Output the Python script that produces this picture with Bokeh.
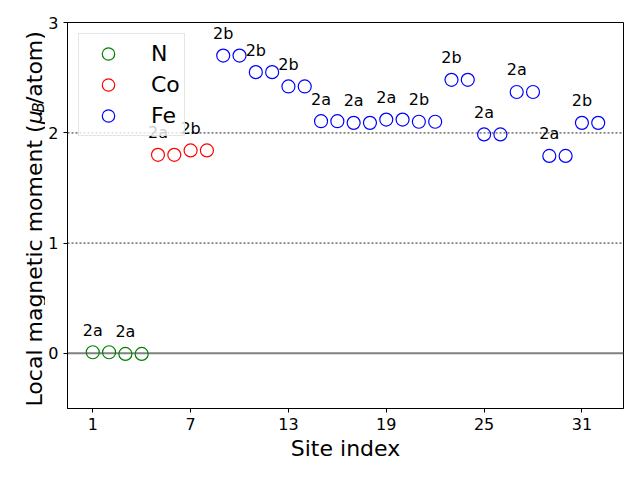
import math
from bokeh.plotting import figure
from bokeh.layouts import row
from bokeh.models import Span, Legend, LegendItem, FixedTicker, Range1d
from bokeh.embed import file_html
from bokeh.resources import INLINE
from bokeh.core.properties import value

# ---- data ----
n_sites = [1, 2, 3, 4]
n_moment = [0.01, 0.01, -0.005, -0.005]
co_sites = [5, 6, 7, 8]
co_moment = [1.80, 1.80, 1.84, 1.84]
fe_sites = list(range(9, 33))
fe_moment = [2.70, 2.70, 2.55, 2.55, 2.42, 2.42, 2.105, 2.105, 2.09, 2.09,
             2.12, 2.12, 2.10, 2.10, 2.48, 2.48, 1.985, 1.985, 2.37, 2.37,
             1.79, 1.79, 2.09, 2.09]
wyckoff_sites = [1, 3, 5, 7, 9, 11, 13, 15, 17, 19, 21, 23, 25, 27, 29, 31]
wyckoff_labels = ["2a", "2a", "2a", "2b", "2b", "2b", "2b", "2a", "2a", "2a",
                  "2b", "2b", "2a", "2a", "2a", "2b"]
x_ticks = [1, 7, 13, 19, 25, 31]
y_ticks = [0, 1, 2, 3]

all_sites = n_sites + co_sites + fe_sites
all_moment = n_moment + co_moment + fe_moment
moment_of = dict(zip(all_sites, all_moment))
label_y = [moment_of[s] + 0.2 for s in wyckoff_sites]

FONT = "DejaVu Sans"
H = 464
TOP, BOTTOM = 22, 56
LW = 45  # width of the y-label strip
Y_START, Y_END = -0.5, 3.0

p = figure(width=624 - LW, height=H, x_range=Range1d(-0.55, 33.55), y_range=Range1d(Y_START, Y_END),
           output_backend="svg", toolbar_location=None,
           min_border_left=65 - LW, min_border_right=1, min_border_top=TOP, min_border_bottom=BOTTOM)
p.grid.visible = False
p.outline_line_color = "black"
p.outline_line_alpha = 1.0
p.outline_line_width = 1
p.background_fill_color = "white"
p.border_fill_color = "white"

for ax in (p.xaxis[0], p.yaxis[0]):
    ax.major_tick_out = 4
    ax.major_tick_in = 0
    ax.minor_tick_out = 0
    ax.minor_tick_in = 0
    ax.major_label_text_font = FONT
    ax.major_label_text_font_size = "16px"
    ax.major_label_text_color = "black"
    ax.axis_line_color = "black"
    ax.major_tick_line_color = "black"
    ax.major_label_standoff = 5

p.xaxis.ticker = FixedTicker(ticks=x_ticks, minor_ticks=[])
p.yaxis.ticker = FixedTicker(ticks=y_ticks, minor_ticks=[])
p.xaxis.axis_label = "Site index"
p.xaxis.axis_label_text_font = FONT
p.xaxis.axis_label_text_font_size = "22px"
p.xaxis.axis_label_text_font_style = "normal"
p.xaxis.axis_label_text_color = "black"
p.xaxis.axis_label_standoff = 3

# reference lines
p.add_layout(Span(location=0, dimension="width", line_color="gray", line_width=2, level="underlay"))
for loc in (1, 2):
    p.add_layout(Span(location=loc, dimension="width", line_color="gray", line_width=1.8,
                      line_dash="2 2", level="underlay"))

r_n = p.scatter(n_sites, n_moment, marker="circle", size=13, fill_color=None,
                line_color="green", line_width=1.2)
r_co = p.scatter(co_sites, co_moment, marker="circle", size=13, fill_color=None,
                 line_color="red", line_width=1.2)
r_fe = p.scatter(fe_sites, fe_moment, marker="circle", size=13, fill_color=None,
                 line_color="blue", line_width=1.2)

p.text(x=wyckoff_sites, y=label_y, text=wyckoff_labels, text_align="center",
       text_baseline="alphabetic", text_font=value(FONT), text_font_size="16px",
       text_color="black")

legend = Legend(items=[LegendItem(label="N", renderers=[r_n]),
                       LegendItem(label="Co", renderers=[r_co]),
                       LegendItem(label="Fe", renderers=[r_fe])],
                location="top_left", margin=11, padding=4, spacing=0,
                glyph_width=50, glyph_height=31, label_height=31, label_standoff=18,
                label_text_font=FONT, label_text_font_size="22px", label_text_color="black",
                border_line_color="#cccccc", border_line_width=1,
                background_fill_color="white", background_fill_alpha=0.8)
p.add_layout(legend)

# ---- y-axis label strip: its frame fills the whole strip, with the same vertical scale ----
frame_h = H - TOP - BOTTOM
upp = (Y_END - Y_START) / frame_h  # data units per pixel
q = figure(width=LW, height=H, x_range=Range1d(0, LW),
           y_range=Range1d(Y_START - BOTTOM * upp, Y_END + TOP * upp),
           output_backend="svg", toolbar_location=None,
           min_border_left=0, min_border_right=0, min_border_top=0, min_border_bottom=0)
q.axis.visible = False
q.grid.visible = False
q.outline_line_color = None
q.background_fill_color = "white"
q.border_fill_color = "white"

Y0 = Y_END - (122.4 - TOP) * upp
common = dict(angle=math.pi / 2, text_font=value(FONT), text_color="black",
              text_baseline="alphabetic")
q.text(x=[34], y=[Y0], text=["Local magnetic moment ("], text_align="right",
       text_font_size="22px", **common)
q.text(x=[34], y=[Y0], text=["μ"], text_align="left", text_font_size="22px",
       text_font_style="italic", **common)
q.text(x=[38], y=[Y0 + 14.0 * upp], text=["B"], text_align="left", text_font_size="15.4px",
       text_font_style="italic", **common)
q.text(x=[34], y=[Y0 + 24.3 * upp], text=["/atom)"], text_align="left",
       text_font_size="22px", **common)

layout = row(q, p, spacing=0)
open("out.html", "w").write(file_html(layout, INLINE))
